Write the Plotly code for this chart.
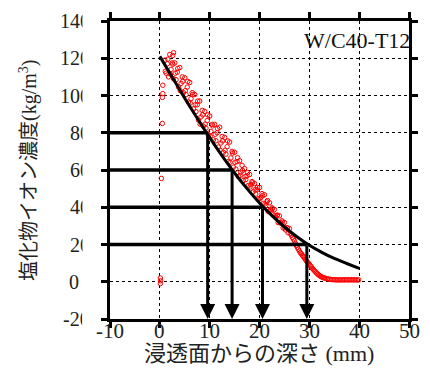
import plotly.graph_objects as go

# ---------------- data ----------------
# measured chloride profile (depth mm, concentration kg/m3)
meas_depth_a = [0.6, 0.6, 0.5, 0.5, 0.3, 0.1, 0.15, 0.1, 2.75, 2.6,
                1.00, 1.25, 1.50, 1.75, 2.00, 2.25, 2.50, 2.75, 3.00, 3.25, 3.50, 3.75,
                4.00, 4.25, 4.50, 4.75, 5.00, 5.25, 5.50, 5.75, 6.00, 6.25, 6.50, 6.75,
                7.00, 7.25, 7.50, 7.75, 8.00, 8.25, 8.50, 8.75, 9.00, 9.25, 9.50, 9.75,
                10.00, 10.25, 10.50, 10.75, 11.00, 11.25, 11.50, 11.75, 12.00, 12.25,
                12.50, 12.75, 13.00, 13.25, 13.50, 13.75, 14.00, 14.25, 14.50, 14.75,
                15.00, 15.25, 15.50, 15.75, 16.00, 16.25, 16.50, 16.75, 17.00, 17.25,
                17.50, 17.75, 18.00, 18.25, 18.50, 18.75, 19.00, 19.25, 19.50, 19.75,
                20.00, 20.25, 20.50, 20.75, 21.00, 21.25, 21.50, 21.75, 22.00, 22.25,
                22.50, 22.75, 23.00, 23.25, 23.50, 23.75, 24.00, 24.25, 24.50, 24.75,
                25.00, 25.25, 25.50, 25.75, 26.00]
meas_conc_a = [10.55, 10.1, 9.9, 8.5, 5.55, 0.2, 0.05, -0.1, 12.3, 12.15,
               11.9, 11.2, 11.7, 11.0, 12.2, 11.4, 11.75, 10.9, 11.75, 10.85, 11.25, 10.45,
               11.5, 10.65, 11.0, 10.15, 10.95, 10.05, 10.45, 9.65, 10.7, 9.83, 10.15, 9.28,
               10.05, 9.13, 9.5, 8.68, 9.7, 8.85, 9.2, 8.35, 9.15, 8.25, 8.65, 7.85,
               8.9, 8.07, 8.45, 7.62, 8.45, 7.57, 8.0, 7.23, 8.3, 7.45,
               7.8, 6.95, 7.75, 6.85, 7.25, 6.45, 7.5, 6.65, 7.0, 6.15,
               6.95, 6.05, 6.45, 5.65, 6.5, 5.88, 6.25, 5.43, 6.07, 5.49,
               5.69, 5.17, 5.76, 5.21, 5.38, 4.83, 5.27, 4.71, 4.94, 4.45,
               5.06, 4.53, 4.73, 4.21, 4.67, 4.09, 4.29, 3.77, 4.24, 3.86,
               3.97, 3.6, 3.88, 3.46, 3.56, 3.18, 3.54, 3.16, 3.27, 2.89,
               3.18, 2.78, 2.91, 2.63, 2.85]
meas_depth_b = [1.1, 1.6, 2.1, 2.6, 3.1, 3.6, 4.1, 4.6, 5.1, 5.6, 6.1, 6.6, 7.1, 7.6,
                8.1, 8.6, 9.1, 9.6, 10.1, 10.6, 11.1, 11.6, 12.1, 12.6, 13.1, 13.6,
                14.1, 14.6, 15.1, 15.6, 16.1, 16.6, 17.1, 17.6, 18.1, 18.6, 19.1, 19.6,
                20.1, 20.6, 21.1, 21.6, 22.1, 22.6, 23.1, 23.6, 24.1, 24.6, 25.1, 25.6]
meas_conc_b = [11.3, 11.95, 11.15, 11.68, 11.2, 11.45, 10.26, 10.76, 10.26, 10.76, 9.6, 10.05,
               9.5, 9.7, 8.46, 8.96, 8.46, 8.96, 7.82, 8.37, 7.92, 8.22, 7.06, 7.56, 7.06,
               7.56, 6.41, 6.91, 6.41, 6.66, 5.71, 5.98, 5.64, 5.86, 5.09, 5.31, 4.94, 5.06,
               4.47, 4.62, 4.18, 4.36, 3.85, 3.92, 3.56, 3.58, 3.17, 3.2, 2.89, 2.88]
meas_depth_c = [26.2, 26.4, 26.6, 26.8, 27.0, 27.2, 27.4, 27.6, 27.8, 28.0, 28.2, 28.4,
                28.6, 28.8, 29.0, 29.2, 29.4, 29.6, 29.8, 30.0, 30.2, 30.4, 30.6, 30.8,
                31.0, 31.2, 31.4, 31.6, 31.8, 32.0, 32.2, 32.4, 32.6, 32.8, 33.0, 33.3,
                33.6, 33.9, 34.2, 34.5, 34.8, 35.1, 35.4, 35.7, 36.0, 36.3, 36.6, 36.9,
                37.2, 37.5, 37.8, 38.1, 38.4, 38.7, 39.0, 39.3, 39.6, 39.9]
meas_conc_c = [2.6, 2.5, 2.38, 2.3, 2.2, 2.05, 1.95, 1.85, 1.75, 1.65, 1.56, 1.5,
               1.42, 1.35, 1.28, 1.2, 1.12, 1.06, 1.0, 0.94, 0.86, 0.8, 0.72, 0.66,
               0.6, 0.54, 0.48, 0.43, 0.38, 0.34, 0.3, 0.27, 0.24, 0.22, 0.2, 0.18,
               0.16, 0.14, 0.13, 0.12, 0.11, 0.11, 0.1, 0.1, 0.1, 0.1, 0.1, 0.1,
               0.1, 0.11, 0.1, 0.1, 0.11, 0.1, 0.1, 0.1, 0.1, 0.1]

# fitted curve
fit_depth = [0, 2.5, 5, 7.5, 10, 12.5, 15, 17.5, 20, 22.5, 25, 27.5, 30, 32.5, 35, 37.5, 40]
fit_conc = [12.1, 10.98, 9.85, 8.78, 7.74, 6.76, 5.84, 5.0, 4.23, 3.55, 2.94, 2.42,
            1.96, 1.58, 1.25, 0.98, 0.72]

# guide levels and the depths where they meet the fitted curve
levels = [8, 6, 4, 2]
level_depths = [9.6, 14.5, 20.6, 29.5]

x_ticks = [-10, 0, 10, 20, 30, 40, 50]
x_tick_text = ["-10", "0", "10", "20", "30", "40", "50"]
y_ticks = [-2, 0, 2, 4, 6, 8, 10, 12, 14]
y_tick_text = ["-20", "0", "20", "40", "60", "80", "100", "120", "140"]

title_text = "W/C40-T12"
x_title = "浸透面からの深さ (mm)"
y_title = "塩化物イオン濃度(kg/m<sup>3</sup>)"

# ---------------- figure ----------------
W, H = 430, 369
ML, MR, MT, MB = 110, 14, 18, 50
PW, PH = W - ML - MR, H - MT - MB


def px_x(p):
    return (p - ML) / PW


def px_y(p):
    return (H - MB - p) / PH


SERIF = "Liberation Serif, Times New Roman, serif"
CJK = "Liberation Serif, Noto Sans CJK JP, serif"
YFS = 20  # y tick font size


def text_w(s, fs):
    # approximate advance width in Liberation Serif
    return sum((0.333 if c == "-" else 0.5) for c in s) * fs


fig = go.Figure()

fig.add_trace(go.Scatter(
    x=meas_depth_a + meas_depth_b + meas_depth_c,
    y=meas_conc_a + meas_conc_b + meas_conc_c,
    mode="markers",
    marker=dict(symbol="circle-open", size=4.5, color="#ff0000", line=dict(width=1, color="#ff0000")),
    showlegend=False, hoverinfo="skip"))

fig.add_trace(go.Scatter(
    x=fit_depth, y=fit_conc, mode="lines",
    line=dict(color="black", width=3, shape="spline"),
    showlegend=False, hoverinfo="skip"))

for lv, d in zip(levels, level_depths):
    fig.add_shape(type="line", xref="x", yref="y", x0=-10, x1=d, y0=lv, y1=lv,
                  line=dict(color="black", width=3.5))
    fig.add_annotation(x=d, y=-2, ax=d, ay=lv, xref="x", yref="y", axref="x", ayref="y",
                       text="", showarrow=True, arrowhead=2, arrowsize=1.0, arrowwidth=3,
                       arrowcolor="black", standoff=0)

# y tick labels: right-aligned at ~89 px, clipped at ~81.5 px as in the reference
RIGHT, CLIP = 89.0, 81.5
for v, t in zip(y_ticks, y_tick_text):
    if t == "0":
        fig.add_annotation(x=px_x(79.5), y=v, xref="paper", yref="y", text=t,
                           showarrow=False, xanchor="right", yanchor="middle", borderpad=0,
                           font=dict(family=SERIF, size=YFS, color="#222"))
        continue
    start = RIGHT - text_w(t, YFS)
    fig.add_annotation(x=px_x(start - 1), y=v, xref="paper", yref="y", text=t,
                       showarrow=False, xanchor="left", yanchor="middle", align="left",
                       width=CLIP - start, borderpad=0,
                       font=dict(family=SERIF, size=YFS, color="#222"))

# x tick labels
for v, t in zip(x_ticks, x_tick_text):
    fig.add_annotation(x=v, y=px_y(331), xref="x", yref="paper", text=t, showarrow=False,
                       xanchor="center", yanchor="middle", borderpad=0,
                       font=dict(family=SERIF, size=21, color="#222"))

fig.add_annotation(x=px_x(418), y=px_y(38), xref="paper", yref="paper", text=title_text,
                   showarrow=False, xanchor="right", yanchor="middle", borderpad=0,
                   font=dict(family=SERIF, size=22, color="#111"))
fig.add_annotation(x=px_x(262), y=px_y(354), xref="paper", yref="paper", text=x_title,
                   showarrow=False, xanchor="center", yanchor="middle",
                   font=dict(family=CJK, size=22, color="#222"))
fig.add_annotation(x=px_x(26), y=0.5, xref="paper", yref="paper", text=y_title,
                   showarrow=False, xanchor="center", yanchor="middle", textangle=-90,
                   font=dict(family=CJK, size=20, color="#222"))

axis_common = dict(showline=True, linecolor="black", linewidth=3, mirror="ticks",
                   ticks="outside", ticklen=6, tickwidth=3, tickcolor="black",
                   showgrid=True, gridcolor="black", gridwidth=1, griddash="dot",
                   zeroline=False, showticklabels=False)

fig.update_xaxes(range=[-10, 50], tickmode="array", tickvals=x_ticks, **axis_common)
fig.update_yaxes(range=[-2, 14], tickmode="array", tickvals=y_ticks, **axis_common)

fig.update_layout(width=W, height=H, margin=dict(l=ML, r=MR, t=MT, b=MB),
                  paper_bgcolor="white", plot_bgcolor="white", showlegend=False)

fig.write_html("out.html")
